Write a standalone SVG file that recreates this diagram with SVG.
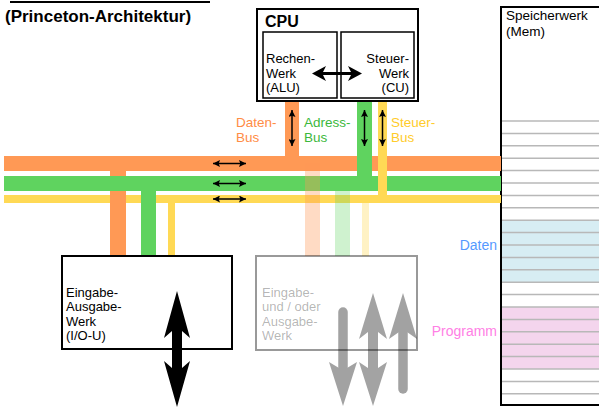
<svg xmlns="http://www.w3.org/2000/svg" width="599" height="407" viewBox="0 0 599 407">
<defs>
<style>
text{font-family:"Liberation Sans",Arial,sans-serif;font-size:13px;fill:#000}
.b{font-weight:bold}
.bus{font-size:13.5px}
.box{fill:#fff;stroke:#000;stroke-width:2}
.inbox{fill:#fff;stroke:#000;stroke-width:1.5}
.or{fill:#ff9955}.gr{fill:#5fd35f}.ye{fill:#ffd955}
.thin{stroke:#000;stroke-width:1.5;fill:none;marker-start:url(#ah);marker-end:url(#ah)}
.mline{stroke:#b8b8b8;stroke-width:1.5}
</style>
<marker id="ah" viewBox="0 0 8 8" refX="8" refY="4" markerWidth="8" markerHeight="7" orient="auto-start-reverse" markerUnits="userSpaceOnUse">
<path d="M0,0 L8,4 L0,8 L1.5,4 z" fill="#000"/>
</marker>
</defs>
<rect width="599" height="407" fill="#fff"/>

<g id="title">
<line x1="10" y1="2" x2="210" y2="2" stroke="#000" stroke-width="2"/>
<text class="b" x="5" y="22" style="font-size:17px">(Princeton-Architektur)</text>
</g>

<g id="memory">
<rect x="501" y="220" width="100" height="62" fill="#d7edf3"/>
<rect x="501" y="307" width="100" height="62" fill="#f4d5ed"/>
<g class="mline">
<line x1="501" y1="121" x2="599" y2="121"/><line x1="501" y1="133.4" x2="599" y2="133.4"/>
<line x1="501" y1="145.8" x2="599" y2="145.8"/><line x1="501" y1="158.2" x2="599" y2="158.2"/>
<line x1="501" y1="170.6" x2="599" y2="170.6"/><line x1="501" y1="183" x2="599" y2="183"/>
<line x1="501" y1="195.4" x2="599" y2="195.4"/><line x1="501" y1="207.8" x2="599" y2="207.8"/>
<line x1="501" y1="220.2" x2="599" y2="220.2"/><line x1="501" y1="232.6" x2="599" y2="232.6"/>
<line x1="501" y1="245" x2="599" y2="245"/><line x1="501" y1="257.4" x2="599" y2="257.4"/>
<line x1="501" y1="269.8" x2="599" y2="269.8"/><line x1="501" y1="282.2" x2="599" y2="282.2"/>
<line x1="501" y1="294.6" x2="599" y2="294.6"/><line x1="501" y1="307" x2="599" y2="307"/>
<line x1="501" y1="319.4" x2="599" y2="319.4"/><line x1="501" y1="331.8" x2="599" y2="331.8"/>
<line x1="501" y1="344.2" x2="599" y2="344.2"/><line x1="501" y1="356.6" x2="599" y2="356.6"/>
<line x1="501" y1="369" x2="599" y2="369"/><line x1="501" y1="381.4" x2="599" y2="381.4"/>
<line x1="501" y1="393.8" x2="599" y2="393.8"/>
</g>
<path d="M605,7 L501,7 L501,405 L605,405" fill="none" stroke="#000" stroke-width="2"/>
<text x="506" y="20" style="font-size:13.5px">Speicherwerk</text>
<text x="506" y="35.5" style="font-size:13.5px">(Mem)</text>
<text x="497" y="250" text-anchor="end" style="font-size:14px;fill:#5599ff">Daten</text>
<text x="497" y="336" text-anchor="end" style="font-size:14px;fill:#ff80e5">Programm</text>
</g>

<g id="connectors">
<rect class="ye" x="4" y="195" width="497" height="8"/>
<rect class="or" x="110" y="163" width="16" height="93"/>
<rect class="gr" x="4" y="176" width="497" height="15"/>
<rect class="gr" x="141" y="183" width="15" height="73"/>
<rect class="or" x="4" y="156" width="497" height="15"/>
<rect class="ye" x="168" y="199" width="7" height="57"/>
<rect class="or" x="285" y="100" width="14" height="62"/>
<rect class="gr" x="357" y="98" width="15" height="84"/>
<rect class="ye" x="378" y="98" width="9" height="102"/>
<rect x="305" y="163" width="15" height="93" fill="#ff9955" opacity="0.35"/>
<rect x="335" y="183" width="15" height="73" fill="#5fd35f" opacity="0.3"/>
<rect x="362" y="199" width="7" height="57" fill="#ffd955" opacity="0.35"/>
<path class="thin" d="M213,163.5 H246"/>
<path class="thin" d="M213,183.5 H246"/>
<path class="thin" d="M213,199 H246"/>
<path class="thin" d="M292,110 V146"/>
<path class="thin" d="M364.5,110 V146"/>
<path class="thin" d="M382.5,110 V146"/>
<text class="bus" x="236" y="127" style="fill:#ff8c45">Daten-</text>
<text class="bus" x="236" y="142.2" style="fill:#ff8c45">Bus</text>
<text class="bus" x="304" y="127" style="fill:#3cb83c">Adress-</text>
<text class="bus" x="304" y="142.2" style="fill:#3cb83c">Bus</text>
<text class="bus" x="391" y="127" style="fill:#ffcc2a">Steuer-</text>
<text class="bus" x="391" y="142.2" style="fill:#ffcc2a">Bus</text>
</g>

<g id="cpu">
<rect class="box" x="257" y="9" width="161" height="92"/>
<text class="b" x="265" y="27" style="font-size:16px">CPU</text>
<g id="alu">
<rect class="inbox" x="263" y="32" width="74" height="66"/>
<text x="266" y="63">Rechen-</text>
<text x="266" y="77.5">Werk</text>
<text x="266" y="92">(ALU)</text>
</g>
<g id="cu">
<rect class="inbox" x="341" y="32" width="73" height="66"/>
<text x="409" y="63" text-anchor="end">Steuer-</text>
<text x="409" y="77.5" text-anchor="end">Werk</text>
<text x="409" y="92" text-anchor="end">(CU)</text>
</g>
<path d="M312,73.5 L326,66 L323,72 L351,72 L348,66 L362,73.5 L348,81 L351,75 L323,75 L326,81 Z" fill="#000"/>
</g>

<g id="io">
<rect class="box" x="62" y="256" width="170" height="93" fill="none"/>
<text x="66" y="296.5">Eingabe-</text>
<text x="66" y="311">Ausgabe-</text>
<text x="66" y="325.5">Werk</text>
<text x="66" y="340">(I/O-U)</text>
<path d="M177,291 L190,338 L182,331 L182,368 L190,361 L177,407 L164,361 L172,368 L172,331 L164,338 Z" fill="#000"/>
</g>

<g id="io-generic">
<rect x="256" y="256" width="161" height="94" fill="none" stroke="#000" stroke-opacity="0.4" stroke-width="2"/>
<g style="fill:#000;fill-opacity:0.3">
<text x="262" y="296.5" style="fill:inherit">Eingabe-</text>
<text x="262" y="311" style="fill:inherit">und / oder</text>
<text x="262" y="325.5" style="fill:inherit">Ausgabe-</text>
<text x="262" y="340" style="fill:inherit">Werk</text>
</g>
<g opacity="0.36">
<line x1="343" y1="312" x2="343" y2="370" stroke="#000" stroke-width="9.5" stroke-linecap="round"/>
<path d="M329,362 L339,368 L347,368 L357,362 L343,406 Z" fill="#000"/>
</g>
<path opacity="0.36" d="M373,293 L387,339 L378,332 L378,368 L387,362 L373,406 L359,362 L368,368 L368,332 L359,339 Z" fill="#000"/>
<g opacity="0.36">
<line x1="403" y1="330" x2="403" y2="389" stroke="#000" stroke-width="9.5" stroke-linecap="round"/>
<path d="M403,293 L417,339 L407,332 L399,332 L389,339 Z" fill="#000"/>
</g>
</g>
</svg>
